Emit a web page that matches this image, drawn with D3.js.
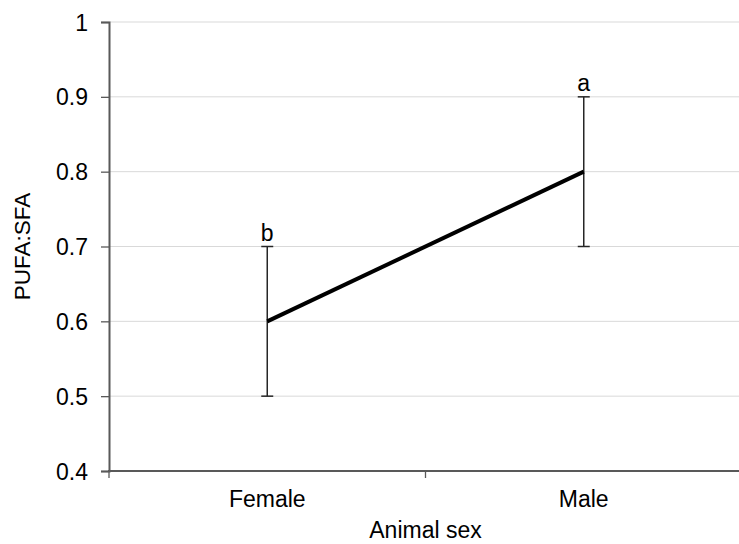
<!DOCTYPE html>
<html>
<head>
<meta charset="utf-8">
<script src="https://cdn.jsdelivr.net/npm/d3@7"></script>
<style>
  body { margin: 0; background: #fff; overflow: hidden; }
  svg { display: block; }
  svg text { font-family: "Liberation Sans", Arial, sans-serif; fill: #000; }
</style>
</head>
<body>
<div id="chart"></div>
<script>
"use strict";

// data
let categories = ["Female", "Male"];
let means = [0.6, 0.8];
let errors = [0.1, 0.1];
let letters = ["b", "a"];
let yTicks = [0.4, 0.5, 0.6, 0.7, 0.8, 0.9, 1];

var width = 739,
    height = 544,
    plotLeft = 109,
    plotRight = 742,
    plotTop = 22,
    plotBottom = 471,
    fontSize = "23px";

var svg = d3.select("#chart").append("svg")
  .attr("width", width)
  .attr("height", height);

var yScale = d3.scaleLinear().domain([0.4, 1]).range([plotBottom, plotTop]);
var xScale = d3.scaleBand().domain(categories).range([plotLeft, plotRight]);
let xMid = function(d) { return xScale(d) + xScale.bandwidth() / 2; };

// gridlines
svg.selectAll(".grid").data(yTicks.slice(1)).enter().append("line")
  .attr("x1", plotLeft).attr("x2", plotRight)
  .attr("y1", d => yScale(d)).attr("y2", d => yScale(d))
  .attr("stroke", "#d9d9d9").attr("stroke-width", 1);

// y axis
var yAxis = svg.append("g")
  .attr("transform", `translate(${plotLeft},0)`)
  .call(d3.axisLeft(yScale).tickValues(yTicks).tickSize(8).tickPadding(13)
    .tickFormat(d => String(+d.toFixed(1))));
yAxis.select(".domain").attr("stroke", "#595959").attr("stroke-width", 2);
yAxis.selectAll(".tick line").attr("stroke", "#595959").attr("stroke-width", 1.3);
yAxis.selectAll(".tick text").style("font-size", fontSize).attr("dy", "0.35em");

// x axis (ticks on band edges)
svg.append("line")
  .attr("x1", plotLeft - 1).attr("x2", plotRight)
  .attr("y1", plotBottom).attr("y2", plotBottom)
  .attr("stroke", "#595959").attr("stroke-width", 2);
let edges = [plotLeft, plotLeft + xScale.bandwidth(), plotRight];
svg.selectAll(".xtick").data(edges).enter().append("line")
  .attr("x1", d => d).attr("x2", d => d)
  .attr("y1", plotBottom).attr("y2", plotBottom + 7)
  .attr("stroke", "#595959").attr("stroke-width", 1.3);
svg.selectAll(".xlabel").data(categories).enter().append("text")
  .attr("x", xMid).attr("y", 507)
  .attr("text-anchor", "middle")
  .style("font-size", fontSize)
  .text(d => d);

// axis titles
svg.append("text")
  .attr("x", (xMid(categories[0]) + xMid(categories[1])) / 2).attr("y", 538)
  .attr("text-anchor", "middle").style("font-size", fontSize)
  .text("Animal sex");
svg.append("text")
  .attr("transform", `translate(30,${(plotTop + plotBottom) / 2}) rotate(-90)`)
  .attr("text-anchor", "middle").style("font-size", "22.5px")
  .text("PUFA:SFA");

// error bars
let pts = categories.map((c, i) => ({ c: c, m: means[i], e: errors[i], l: letters[i] }));
svg.selectAll(".err").data(pts).enter().append("line")
  .attr("x1", d => xMid(d.c)).attr("x2", d => xMid(d.c))
  .attr("y1", d => yScale(d.m - d.e)).attr("y2", d => yScale(d.m + d.e))
  .attr("stroke", "#262626").attr("stroke-width", 1.5);
[-1, 1].forEach(function(s) {
  svg.selectAll(".cap" + (s + 1)).data(pts).enter().append("line")
    .attr("x1", d => xMid(d.c) - 6).attr("x2", d => xMid(d.c) + 6)
    .attr("y1", d => yScale(d.m + s * d.e)).attr("y2", d => yScale(d.m + s * d.e))
    .attr("stroke", "#262626").attr("stroke-width", 1.5);
});

// mean line
svg.append("path")
  .datum(pts)
  .attr("fill", "none")
  .attr("stroke", "#000")
  .attr("stroke-width", 4)
  .attr("d", d3.line().x(d => xMid(d.c)).y(d => yScale(d.m)));

// significance letters
svg.selectAll(".letter").data(pts).enter().append("text")
  .attr("x", d => xMid(d.c)).attr("y", d => yScale(d.m + d.e) - 6)
  .attr("text-anchor", "middle").style("font-size", fontSize)
  .text(d => d.l);
</script>
</body>
</html>
